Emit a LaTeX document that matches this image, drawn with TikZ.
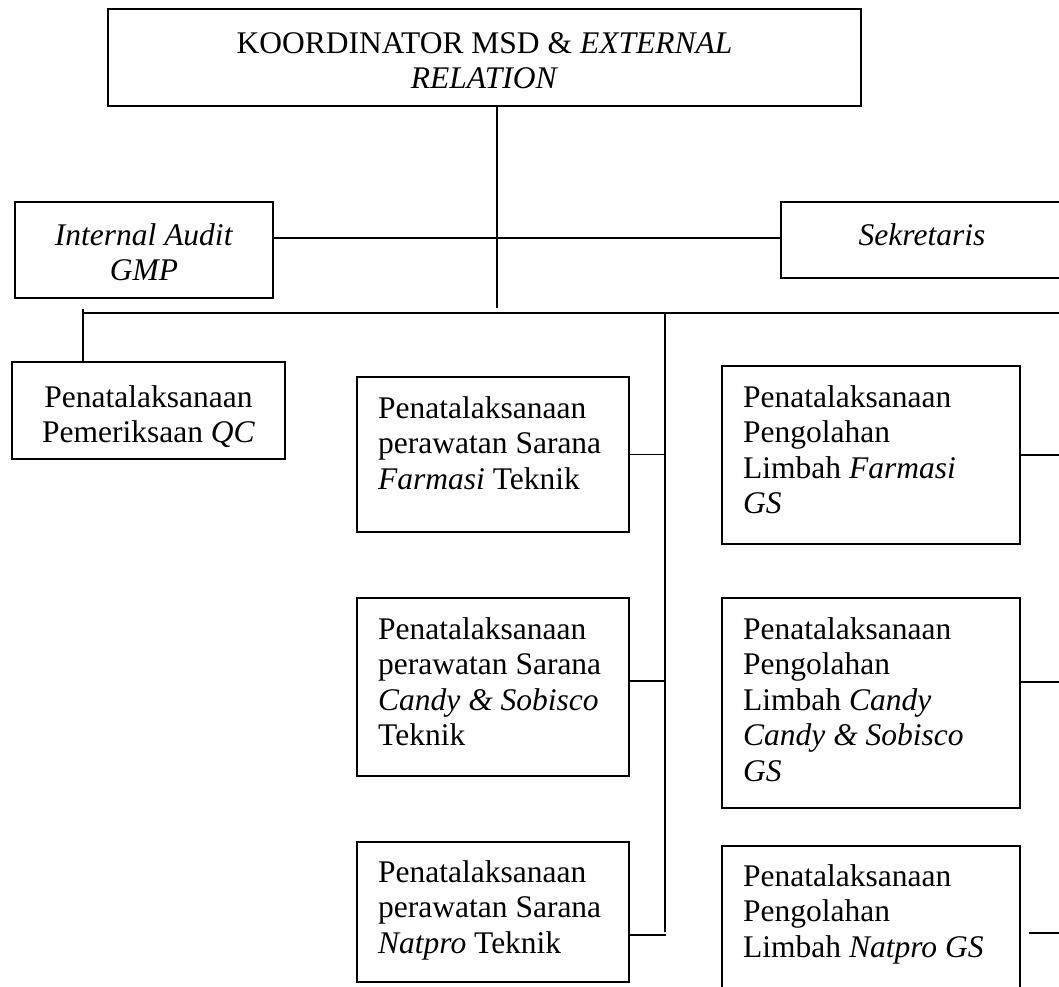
\documentclass[tikz,border=0pt]{standalone}
\usepackage{fontspec}
\setmainfont{Liberation Serif}
\begin{document}
\begin{tikzpicture}[x=1pt,y=-1pt,
  box/.style={draw=black, line width=1.1pt, rectangle, inner sep=0pt, outer sep=0pt, anchor=north west},
  link/.style={draw=black, line width=1.2pt},
  txtL/.style={inner sep=0pt, align=left, anchor=north west, font={\fontsize{31.5}{35.5}\selectfont}},
  txtC/.style={inner sep=0pt, align=center, anchor=north, font={\fontsize{31.5}{35.5}\selectfont}}]
\useasboundingbox (0,0) rectangle (1059,986);
\clip (0,0) rectangle (1059,986);

% boxes
\node[box, minimum width=753pt, minimum height=97pt]  (top) at (108,9)   {};
\node[box, minimum width=258pt, minimum height=96pt]  (ia)  at (15,202)  {};
\node[box, minimum width=282pt, minimum height=76pt]  (sek) at (781,202) {};
\node[box, minimum width=273pt, minimum height=97pt]  (qc)  at (12,362)  {};
\node[box, minimum width=272pt, minimum height=155pt] (m1)  at (357,377) {};
\node[box, minimum width=272pt, minimum height=178pt] (m2)  at (357,598) {};
\node[box, minimum width=272pt, minimum height=140pt] (m3)  at (357,842) {};
\node[box, minimum width=298pt, minimum height=178pt] (r1)  at (722,366) {};
\node[box, minimum width=298pt, minimum height=210pt] (r2)  at (722,598) {};
\node[box, minimum width=298pt, minimum height=170pt] (r3)  at (722,846) {};

% labels
\node[txtC] (topt) at ([shift={(0,19)}]top.north) {\strut KOORDINATOR MSD \& \textit{EXTERNAL}\\\textit{RELATION}};
\node[txtC] (iat)  at ([shift={(0,18)}]ia.north)  {\strut\textit{Internal Audit}\\\textit{GMP}};
\node[txtC] (sekt) at ([shift={(0,18)}]sek.north) {\strut\textit{Sekretaris}};
\node[txtC] (qct)  at ([shift={(0,20)}]qc.north)  {\strut Penatalaksanaan\\Pemeriksaan \textit{QC}};
\node[txtL] (m1t) at ([shift={(21,16)}]m1.north west) {\strut Penatalaksanaan\\perawatan Sarana\\\textit{Farmasi} Teknik};
\node[txtL] (m2t) at ([shift={(21,16)}]m2.north west) {\strut Penatalaksanaan\\perawatan Sarana\\\textit{Candy \& Sobisco}\\Teknik};
\node[txtL] (m3t) at ([shift={(21,15)}]m3.north west) {\strut Penatalaksanaan\\perawatan Sarana\\\textit{Natpro} Teknik};
\node[txtL] (r1t) at ([shift={(21,16)}]r1.north west) {\strut Penatalaksanaan\\Pengolahan\\Limbah \textit{Farmasi}\\\textit{GS}};
\node[txtL] (r2t) at ([shift={(21,16)}]r2.north west) {\strut Penatalaksanaan\\Pengolahan\\Limbah \textit{Candy}\\\textit{Candy \& Sobisco}\\\textit{GS}};
\node[txtL] (r3t) at ([shift={(21,15)}]r3.north west) {\strut Penatalaksanaan\\Pengolahan\\Limbah \textit{Natpro GS}};

% junction points
\coordinate (spine)  at (497,308);
\coordinate (staff)  at (497,238);
\coordinate (busL)   at (83,313);
\coordinate (busR)   at (1059,313);
\coordinate (tick)   at (83,309);
\coordinate (s2top)  at (665,313);
\coordinate (s2bot)  at (665,932);
\coordinate (c2)     at (666,681);
\coordinate (c3)     at (666,935);
\coordinate (edgeR)  at (1059,454);
\coordinate (e2)     at (1059,682);
\coordinate (r3a)    at (1029,933);
\coordinate (r3b)    at (1059,933);

% connectors
\draw[link] (top.south -| spine) -- (spine);
\draw[link] (ia.east |- staff) -- (sek.west |- staff);
\draw[link] (busL) -- (busR);
\draw[link] (tick) -- (tick |- qc.north);
\draw[link] (s2top) -- (s2bot);
\draw[link] (m1.east) -- (m1.east -| c2);
\draw[link] (m2.east |- c2) -- (c2);
\draw[link] (m3.east |- c3) -- (c3);
\draw[link] (r1.east) -- (r1.east -| edgeR);
\draw[link] (r2.east |- e2) -- (e2);
\draw[link] (r3a) -- (r3b);
\end{tikzpicture}
\end{document}
